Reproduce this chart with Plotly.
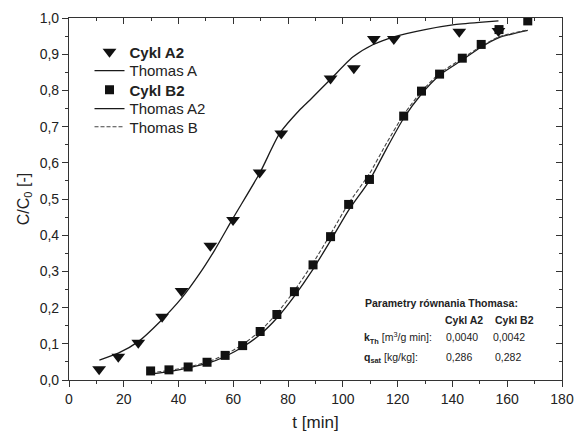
import plotly.graph_objects as go

# Cykl A2 (measured)
a2_t = [11, 18, 25.3, 34, 41.1, 51.6, 59.9, 69.6, 77.5, 95.5, 104.0, 111.3, 118.6, 142.5, 156.8]
a2_c = [0.030, 0.064, 0.103, 0.175, 0.246, 0.371, 0.442, 0.573, 0.681, 0.833, 0.861, 0.942, 0.942, 0.962, 0.964]

# Thomas A (fit curve)
ta_t = [11.1, 18, 25.3, 33.2, 41.1, 47.8, 53.2, 59.9, 69.6, 76.9, 84.2, 87.9, 95.8, 103.6, 110.9, 118.6, 130, 140.1, 149.8, 156.8]
ta_c = [0.055, 0.074, 0.106, 0.161, 0.226, 0.295, 0.359, 0.447, 0.571, 0.681, 0.746, 0.773, 0.833, 0.892, 0.926, 0.948, 0.968, 0.981, 0.988, 0.992]

# Cykl B2 (measured)
b2_t = [29.8, 36.5, 43.5, 50.4, 57.0, 63.4, 69.8, 75.9, 82.3, 89.1, 95.5, 102.1, 109.7, 122.2, 128.7, 135.3, 143.6, 150.5, 157.0, 167.5]
b2_c = [0.025, 0.028, 0.036, 0.049, 0.068, 0.095, 0.134, 0.181, 0.244, 0.318, 0.396, 0.485, 0.554, 0.729, 0.798, 0.845, 0.889, 0.927, 0.968, 0.992]

# Thomas A2 (solid fit for B)
tb_t = [30, 37, 44, 51, 57, 63.4, 70, 76, 82.3, 89, 95.5, 102, 109.7, 116, 122.2, 128.7, 135.3, 143.6, 150.5, 157, 167.5]
tb_c = [0.017, 0.024, 0.034, 0.047, 0.065, 0.091, 0.127, 0.172, 0.232, 0.305, 0.385, 0.468, 0.551, 0.640, 0.723, 0.790, 0.842, 0.884, 0.920, 0.946, 0.966]

# Thomas B (dashed fit)
tbd_t = [30, 37, 44, 51, 57, 63.4, 70, 76, 82.3, 89, 95.5, 102, 109.7, 116, 122.2, 128.7, 135.3, 143.6, 150.5, 157, 167.5]
tbd_c = [0.020, 0.027, 0.037, 0.051, 0.070, 0.098, 0.137, 0.185, 0.247, 0.322, 0.403, 0.487, 0.570, 0.655, 0.733, 0.797, 0.847, 0.888, 0.922, 0.948, 0.967]

x_ticks = [0, 20, 40, 60, 80, 100, 120, 140, 160, 180]
x_minor = [10, 30, 50, 70, 90, 110, 130, 150, 170]
y_ticks = [0.0, 0.1, 0.2, 0.3, 0.4, 0.5, 0.6, 0.7, 0.8, 0.9, 1.0]
y_ticktext = ["0,0", "0,1", "0,2", "0,3", "0,4", "0,5", "0,6", "0,7", "0,8", "0,9", "1,0"]
y_minor = [0.05, 0.15, 0.25, 0.35, 0.45, 0.55, 0.65, 0.75, 0.85, 0.95]

FONT = "Arial, Liberation Sans, sans-serif"
TXT = "#222222"
AX = "#333333"

fig = go.Figure()
fig.add_trace(go.Scatter(x=ta_t, y=ta_c, mode="lines", name="Thomas A", legend="legend2",
                         line=dict(color="#1a1a1a", width=1.3, shape="spline", smoothing=0.6)))
fig.add_trace(go.Scatter(x=tb_t, y=tb_c, mode="lines", name="Thomas A2", legend="legend4",
                         line=dict(color="#1a1a1a", width=1.3, shape="spline", smoothing=0.6)))
fig.add_trace(go.Scatter(x=tbd_t, y=tbd_c, mode="lines", name="Thomas B", legend="legend5",
                         line=dict(color="#444444", width=1.1, dash="4px,2px", shape="spline", smoothing=0.6)))
fig.add_trace(go.Scatter(x=a2_t, y=a2_c, mode="markers", name="<b>Cykl A2</b>", legend="legend",
                         marker=dict(symbol="triangle-down", size=12, color="#111111")))
fig.add_trace(go.Scatter(x=b2_t, y=b2_c, mode="markers", name="<b>Cykl B2</b>", legend="legend3",
                         marker=dict(symbol="square", size=9, color="#111111")))
# dummy trace for mirrored (inward) axes
fig.add_trace(go.Scatter(x=[None], y=[None], xaxis="x2", yaxis="y2", showlegend=False, hoverinfo="skip"))

axis_common = dict(showline=True, linecolor=AX, linewidth=1.2, showgrid=False, zeroline=False,
                   automargin=False, ticklabeloverflow="allow",
                   tickfont=dict(family=FONT, size=14, color=TXT), tickcolor=AX)

LEG_X = 0.0416
leg_rows = {"legend": 0.906, "legend2": 0.854, "legend3": 0.801, "legend4": 0.749, "legend5": 0.699}
legends = {}
for k, yv in leg_rows.items():
    legends[k] = dict(x=LEG_X, y=yv, xanchor="left", yanchor="middle", bgcolor="rgba(0,0,0,0)",
                      font=dict(family=FONT, size=15, color=TXT), itemwidth=30, borderwidth=0)

fig.update_layout(
    width=574, height=432,
    margin=dict(l=69, r=12, t=18, b=52),
    paper_bgcolor="white", plot_bgcolor="white",
    font=dict(family=FONT, color=TXT),
    showlegend=True,
    **legends,
    xaxis=dict(range=[0, 180], tickvals=x_ticks, ticktext=[str(v) for v in x_ticks],
               ticks="outside", ticklen=6, mirror=True,
               minor=dict(tickvals=x_minor, ticks="outside", ticklen=3, tickcolor=AX),
               title=dict(text="t [min]", font=dict(family=FONT, size=17, color=TXT), standoff=10),
               **axis_common),
    yaxis=dict(range=[0, 1.0], tickvals=y_ticks, ticktext=y_ticktext,
               ticks="outside", ticklen=6, mirror=True,
               minor=dict(tickvals=y_minor, ticks="outside", ticklen=3, tickcolor=AX),
               title=dict(text="C/C<sub>0</sub> [-]", font=dict(family=FONT, size=16, color=TXT), standoff=6),
               **axis_common),
    xaxis2=dict(range=[0, 180], overlaying="x", side="top", tickvals=x_ticks, showticklabels=False,
                ticks="inside", ticklen=6, showline=False, showgrid=False, zeroline=False, tickcolor=AX,
                automargin=False,
                minor=dict(tickvals=x_minor, ticks="inside", ticklen=3, tickcolor=AX)),
    yaxis2=dict(range=[0, 1.0], overlaying="y", side="right", tickvals=y_ticks, showticklabels=False,
                ticks="inside", ticklen=6, showline=False, showgrid=False, zeroline=False, tickcolor=AX,
                automargin=False,
                minor=dict(tickvals=y_minor, ticks="inside", ticklen=3, tickcolor=AX)),
)

ann_font = dict(family=FONT, size=10.5, color=TXT)
anns = [
    (136.0, 0.212, "<b>Parametry równania Thomasa:</b>", "center"),
    (144.3, 0.166, "<b>Cykl A2</b>", "center"),
    (162.6, 0.166, "<b>Cykl B2</b>", "center"),
    (107.0, 0.117, "<b>k<sub>Th</sub></b> [m<sup>3</sup>/g min]:", "left"),
    (143.5, 0.119, "0,0040", "center"),
    (160.7, 0.119, "0,0042", "center"),
    (107.0, 0.062, "<b>q<sub>sat</sub></b> [kg/kg]:", "left"),
    (142.4, 0.064, "0,286", "center"),
    (160.4, 0.064, "0,282", "center"),
]
for x, y, t, al in anns:
    fig.add_annotation(x=x, y=y, xref="x", yref="y", text=t, showarrow=False,
                       xanchor=al, yanchor="middle", font=ann_font)

fig.write_html("out.html", config={"displayModeBar": False},
               post_script="document.body.style.margin='0';")
